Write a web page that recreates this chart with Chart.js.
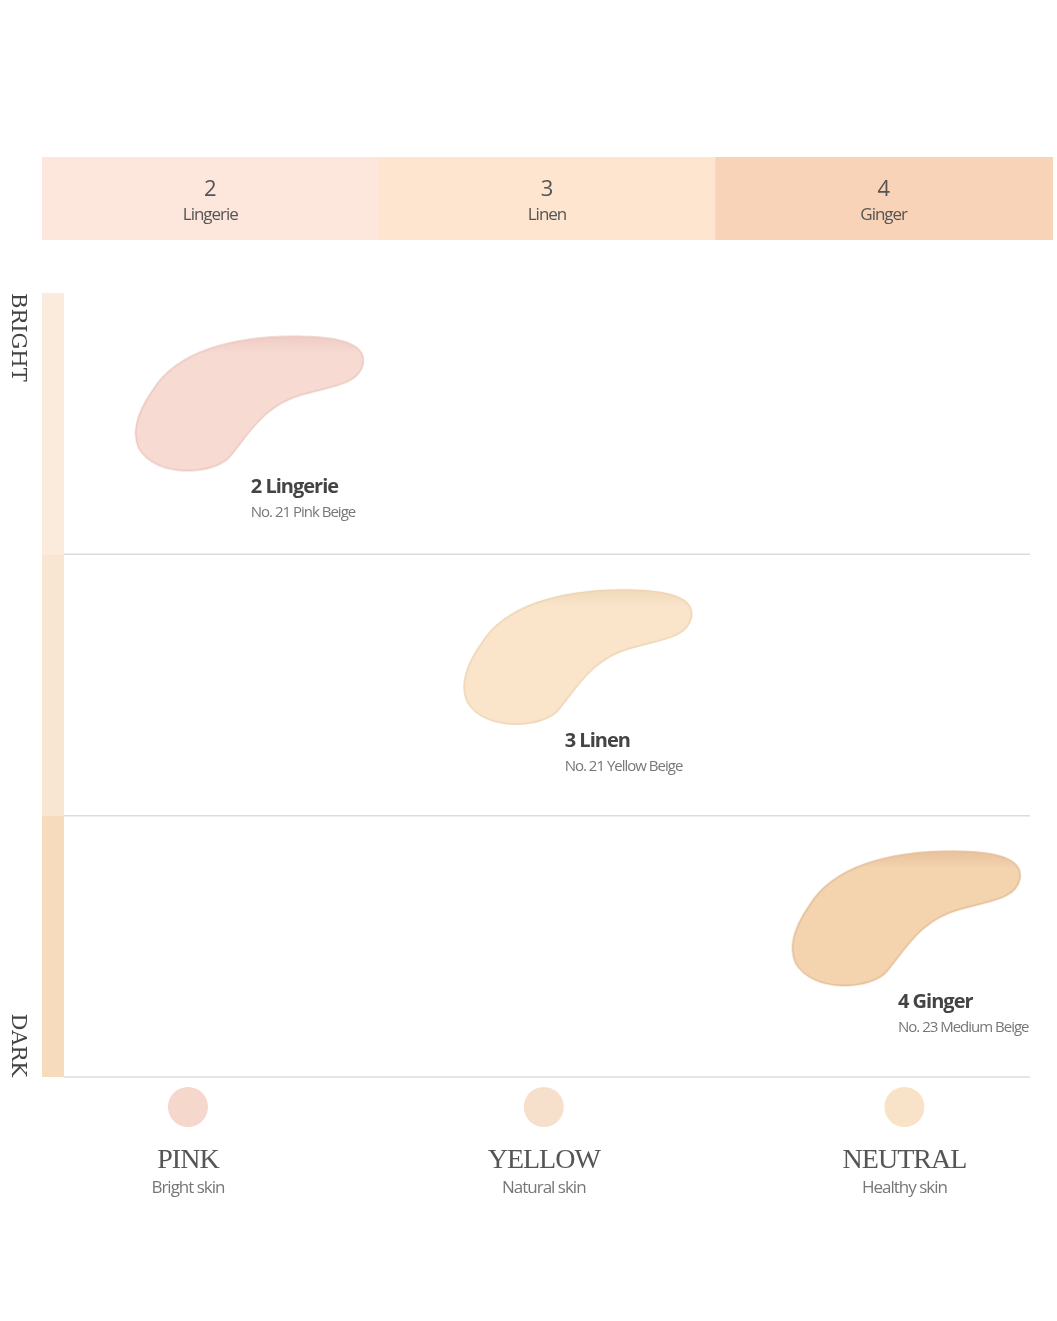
<!DOCTYPE html>
<html>
<head>
<meta charset="utf-8">
<script src="https://cdn.jsdelivr.net/npm/chart.js@4"></script>
<style>
  body { margin: 0; background: #fff; font-family: "Open Sans", sans-serif; }
  #wrap { position: relative; width: 1057px; height: 1321px; }
  #shade-chart { position: absolute; left: 0; top: 0; }
</style>
</head>
<body>
<div id="wrap"><canvas id="shade-chart" width="1057" height="1321"></canvas></div>
<script>
// header columns
const headerNums = ["2", "3", "4"];
const headerNames = ["Lingerie", "Linen", "Ginger"];
const headerColors = ["#fde6dc", "#fde5cf", "#f8d3b7"];

// undertone categories (x axis)
const toneNames = ["PINK", "YELLOW", "NEUTRAL"];
const toneDescs = ["Bright skin", "Natural skin", "Healthy skin"];
const toneColors = ["#f5d7cc", "#f6e0cc", "#f9e3c8"];
const toneX = [0.385, 1.49, 2.61];

// brightness rows (y axis)
const rowColors = ["#fbebdc", "#f9e6d2", "#f6dcbd"];

// shades
const shadeNames = ["2 Lingerie", "3 Linen", "4 Ginger"];
const shadeDescs = ["No. 21 Pink Beige", "No. 21 Yellow Beige", "No. 23 Medium Beige"];
const shadeX = [0.58, 1.6, 2.62];
const shadeY = [0.43, 1.4, 2.4];
const labelX = [0.58, 1.555, 2.59];
const shadeColors = ["#f7dad2", "#fae5cb", "#f4d3af"];
const shadeEdges = ["#ecc8bf", "#eed4b4", "#e4bd96"];

function smear(fill, edge) {
  const c = document.createElement("canvas");
  c.width = 240; c.height = 150;
  const g = c.getContext("2d");
  g.beginPath();
  g.moveTo(22, 60);
  g.bezierCurveTo(45, 22, 100, 6, 165, 6);
  g.bezierCurveTo(210, 6, 236, 14, 232, 34);
  g.bezierCurveTo(228, 54, 200, 56, 172, 64);
  g.bezierCurveTo(135, 74, 120, 100, 100, 125);
  g.bezierCurveTo(85, 145, 25, 148, 8, 118);
  g.bezierCurveTo(0, 100, 8, 80, 22, 60);
  g.closePath();
  const grad = g.createLinearGradient(0, 0, 0, 150);
  grad.addColorStop(0, edge);
  grad.addColorStop(0.15, fill);
  grad.addColorStop(1, fill);
  g.fillStyle = grad;
  g.fill();
  g.strokeStyle = edge;
  g.lineWidth = 1.5;
  g.stroke();
  return c;
}

const swatches = shadeColors.map((c, i) => smear(c, shadeEdges[i]));

const decor = {
  id: "decor",
  beforeDatasetsDraw(ch) {
    const ctx = ch.ctx, xs = ch.scales.x, ys = ch.scales.y, a = ch.chartArea;
    ctx.save();
    // header band
    const colW = (1052 - 42) / 3;
    headerNums.forEach((n, i) => {
      const x0 = 42 + i * colW;
      ctx.fillStyle = headerColors[i];
      ctx.fillRect(x0, 157, colW + 1, 83);
      ctx.fillStyle = "#555";
      ctx.textAlign = "center";
      ctx.font = "22px 'Open Sans'";
      ctx.fillText(n, x0 + colW / 2, 196);
      ctx.font = "17px 'Open Sans'";
      ctx.letterSpacing = "-1px";
      ctx.fillText(headerNames[i], x0 + colW / 2, 220);
      ctx.letterSpacing = "0px";
    });
    // rows
    for (let r = 0; r < 3; r++) {
      const y0 = ys.getPixelForValue(r), y1 = ys.getPixelForValue(r + 1);
      ctx.fillStyle = rowColors[r];
      ctx.fillRect(42, y0, 22, y1 - y0);
      ctx.strokeStyle = "#dcdcdc";
      ctx.lineWidth = 1.5;
      ctx.beginPath();
      ctx.moveTo(64, y1); ctx.lineTo(a.right, y1); ctx.stroke();
    }
    // axis words
    ctx.fillStyle = "#444";
    ctx.font = "21px 'DejaVu Serif'";
    ctx.textAlign = "left";
    ctx.save();
    ctx.translate(12, ys.getPixelForValue(0));
    ctx.rotate(Math.PI / 2);
    ctx.fillText("BRIGHT", 0, 0);
    ctx.restore();
    ctx.save();
    ctx.translate(12, ys.getPixelForValue(3));
    ctx.rotate(Math.PI / 2);
    ctx.textAlign = "right";
    ctx.fillText("DARK", 0, 0);
    ctx.restore();
    // undertone labels
    toneNames.forEach((t, i) => {
      const x = xs.getPixelForValue(toneX[i]);
      ctx.fillStyle = toneColors[i];
      ctx.beginPath(); ctx.arc(x, 1107, 20, 0, Math.PI * 2); ctx.fill();
      ctx.textAlign = "center";
      ctx.fillStyle = "#555";
      ctx.font = "28px 'Liberation Serif'";
      ctx.letterSpacing = "-1px";
      ctx.fillText(t, x, 1168);
      ctx.fillStyle = "#777";
      ctx.font = "17px 'Open Sans'";
      ctx.fillText(toneDescs[i], x, 1193);
      ctx.letterSpacing = "0px";
    });
    ctx.restore();
  },
  afterDatasetsDraw(ch) {
    const ctx = ch.ctx, xs = ch.scales.x, ys = ch.scales.y;
    ctx.save();
    ctx.textAlign = "left";
    shadeNames.forEach((n, i) => {
      const x = xs.getPixelForValue(labelX[i]);
      const y = ys.getPixelForValue(shadeY[i]);
      ctx.letterSpacing = "-1px";
      ctx.fillStyle = "#444";
      ctx.font = "bold 20px 'Open Sans'";
      ctx.fillText(n, x, y + 88);
      ctx.fillStyle = "#777";
      ctx.font = "15px 'Open Sans'";
      ctx.fillText(shadeDescs[i], x, y + 112);
    });
    ctx.restore();
  }
};

new Chart(document.getElementById("shade-chart"), {
  type: "scatter",
  data: {
    datasets: [{
      label: "Shades",
      data: shadeX.map((x, i) => ({ x, y: shadeY[i] })),
      pointStyle: swatches,
      pointRadius: 60,
      pointHoverRadius: 60,
    }],
  },
  options: {
    responsive: false,
    animation: false,
    layout: { autoPadding: false, padding: { left: 64, right: 27, top: 293, bottom: 244 } },
    scales: {
      x: { display: false, min: 0, max: 3 },
      y: { display: false, min: 0, max: 3, reverse: true },
    },
    plugins: { legend: { display: false }, tooltip: { enabled: false } },
  },
  plugins: [decor],
});
</script>
</body>
</html>
